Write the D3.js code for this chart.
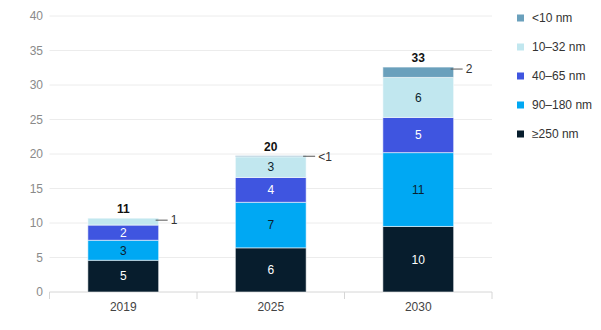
<!DOCTYPE html>
<html>
<head>
<meta charset="utf-8">
<script src="https://cdn.jsdelivr.net/npm/d3@7"></script>
<style>
  html, body { margin: 0; padding: 0; background: #fff; }
  svg { display: block; font-family: "Liberation Sans", Arial, sans-serif; }
</style>
</head>
<body>
<svg id="chart" width="601" height="330"></svg>
<script>
// Wafer capacity by node size, stacked per year
const years = ["2019", "2025", "2030"];
const seriesKeys = ["≥250 nm", "90–180 nm", "40–65 nm", "10–32 nm", "<10 nm"];
const valuesGe250 = [4.6, 6.4, 9.5];
const values90to180 = [2.9, 6.6, 10.7];
const values40to65 = [2.2, 3.6, 5.1];
const values10to32 = [1.0, 3.0, 5.8];
const valuesLt10 = [0, 0.15, 1.5];
const yTicks = [0, 5, 10, 15, 20, 25, 30, 35, 40];
const legendOrder = ["<10 nm", "10–32 nm", "40–65 nm", "90–180 nm", "≥250 nm"];

const colors = {
  "≥250 nm": "#071d2d",
  "90–180 nm": "#00a8f3",
  "40–65 nm": "#3f55e0",
  "10–32 nm": "#c1e7ef",
  "<10 nm": "#6aa0bc"
};
const labelColors = {
  "≥250 nm": "#ffffff",
  "90–180 nm": "#0b1f2e",
  "40–65 nm": "#ffffff",
  "10–32 nm": "#0b1f2e",
  "<10 nm": "#0b1f2e"
};

const seriesValues = [valuesGe250, values90to180, values40to65, values10to32, valuesLt10];
const table = years.map((yr, i) => {
  const row = { year: yr };
  seriesKeys.forEach((k, j) => { row[k] = seriesValues[j][i]; });
  return row;
});

const svg = d3.select("#chart");
const margin = { left: 49.5, right: 109, top: 16, bottom: 38 };
const W = 601, H = 330;

const x = d3.scaleBand().domain(years).range([margin.left, W - margin.right]).paddingInner(0.52).paddingOuter(0.26);
const xStep = d3.scaleBand().domain(years).range([margin.left, W - margin.right]);
const y = d3.scaleLinear().domain([0, 40]).range([H - margin.bottom, margin.top]);

// gridlines
svg.append("g")
  .selectAll("line")
  .data(yTicks.filter(t => t > 0))
  .join("line")
  .attr("x1", margin.left).attr("x2", W - margin.right)
  .attr("y1", d => y(d)).attr("y2", d => y(d))
  .attr("stroke", "#ececec").attr("stroke-width", 1);

// y axis labels
svg.append("g")
  .selectAll("text")
  .data(yTicks)
  .join("text")
  .attr("x", 43).attr("y", d => y(d)).attr("dy", "0.35em")
  .attr("text-anchor", "end")
  .attr("fill", "#8a8a8a").attr("font-size", 12)
  .text(d => d);

// x axis baseline and boundary ticks
const xAxis = svg.append("g");
xAxis.append("line")
  .attr("x1", margin.left).attr("x2", W - margin.right)
  .attr("y1", y(0)).attr("y2", y(0))
  .attr("stroke", "#d6d6d6");
const bounds = years.map(yr => xStep(yr)).concat([xStep(years[years.length - 1]) + xStep.bandwidth()]);
xAxis.selectAll("line.tick")
  .data(bounds)
  .join("line")
  .attr("class", "tick")
  .attr("x1", d => d).attr("x2", d => d)
  .attr("y1", y(0)).attr("y2", y(0) + 7)
  .attr("stroke", "#d6d6d6");
xAxis.selectAll("text")
  .data(years)
  .join("text")
  .attr("x", d => x(d) + x.bandwidth() / 2)
  .attr("y", y(0) + 19)
  .attr("text-anchor", "middle")
  .attr("fill", "#444").attr("font-size", 12)
  .text(d => d);

// stacked bars
const stack = d3.stack().keys(seriesKeys)(table);
const fmt = v => v < 1 ? "<1" : String(Math.round(v));

const segs = stack.map(layer => ({
  key: layer.key,
  items: layer.map(p => ({ key: layer.key, p, v: p.data[layer.key] }))
}));

const layers = svg.append("g").selectAll("g")
  .data(segs)
  .join("g")
  .attr("fill", d => colors[d.key]);

layers.selectAll("rect")
  .data(d => d.items)
  .join("rect")
  .attr("x", d => x(d.p.data.year))
  .attr("width", x.bandwidth())
  .attr("y", d => y(d.p[1]))
  .attr("height", d => y(d.p[0]) - y(d.p[1]))
  .attr("stroke", "rgba(255,255,255,0.55)")
  .attr("stroke-width", d => d.v > 0 ? 1 : 0);

// inside labels for segments large enough
layers.selectAll("text")
  .data(d => d.items.filter(s => s.v >= 1.8))
  .join("text")
  .attr("x", d => x(d.p.data.year) + x.bandwidth() / 2)
  .attr("y", d => (y(d.p[0]) + y(d.p[1])) / 2)
  .attr("dy", "0.36em")
  .attr("text-anchor", "middle")
  .attr("font-size", 12)
  .attr("fill", d => labelColors[d.key])
  .text(d => fmt(d.v));

// callouts for thin top segments
const callouts = segs.flatMap(s => s.items.filter(it => it.v > 0 && it.v < 1.8));
const calloutY = d => Math.min((y(d.p[0]) + y(d.p[1])) / 2, y(d.p[1]) + 2);
const cg = svg.append("g");
cg.selectAll("line")
  .data(callouts)
  .join("line")
  .attr("x1", d => x(d.p.data.year) + x.bandwidth() - 3)
  .attr("x2", d => x(d.p.data.year) + x.bandwidth() + 9)
  .attr("y1", calloutY)
  .attr("y2", calloutY)
  .attr("stroke", "#555").attr("stroke-width", 1);
cg.selectAll("text")
  .data(callouts)
  .join("text")
  .attr("x", d => x(d.p.data.year) + x.bandwidth() + 12)
  .attr("y", calloutY)
  .attr("dy", "0.36em")
  .attr("font-size", 12)
  .attr("fill", "#333")
  .text(d => fmt(d.v));

// totals above bars
const totals = table.map(r => ({ year: r.year, total: d3.sum(seriesKeys, k => r[k]) }));
svg.append("g").selectAll("text")
  .data(totals)
  .join("text")
  .attr("x", d => x(d.year) + x.bandwidth() / 2)
  .attr("y", d => y(d.total) - 5)
  .attr("text-anchor", "middle")
  .attr("font-size", 12).attr("font-weight", "bold")
  .attr("fill", "#111")
  .text(d => Math.round(d.total));

// legend
const lg = svg.append("g").attr("transform", "translate(517,18)");
const li = lg.selectAll("g")
  .data(legendOrder)
  .join("g")
  .attr("transform", (d, i) => `translate(0,${i * 29})`);
li.append("rect")
  .attr("x", 0).attr("y", -3.5).attr("width", 7).attr("height", 7)
  .attr("fill", d => colors[d]);
li.append("text")
  .attr("x", 15).attr("y", 0).attr("dy", "0.35em")
  .attr("font-size", 12).attr("fill", "#333")
  .text(d => d);
</script>
</body>
</html>
